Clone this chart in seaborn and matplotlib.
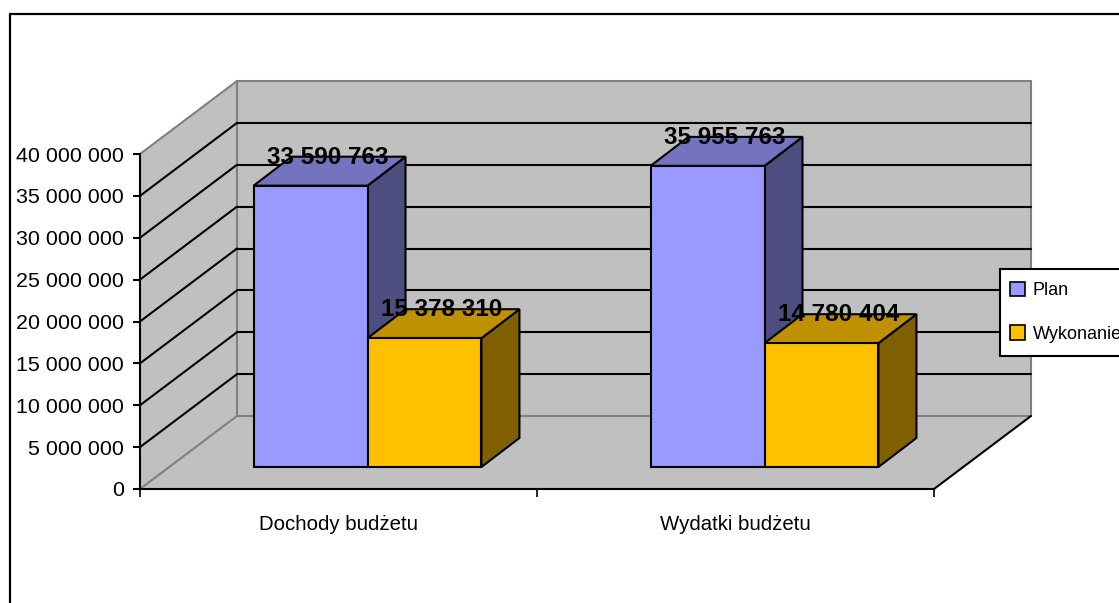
# wykonanie_budzetu.py

import pandas as pd
import matplotlib
matplotlib.use("Agg")
import matplotlib.pyplot as plt
import seaborn as sns
from matplotlib.lines import Line2D
from matplotlib.patches import Patch, Polygon, Rectangle
from matplotlib.transforms import Affine2D, IdentityTransform

# --- Dane ---
kategorie = ["Dochody budżetu", "Wydatki budżetu"]
plan = [33590763, 35955763]
wykonanie = [15378310, 14780404]
serie = ["Plan", "Wykonanie"]
etykiety_y = [0, 5000000, 10000000, 15000000, 20000000, 25000000, 30000000, 35000000, 40000000]

df = pd.DataFrame({
    "kategoria": kategorie * 2,
    "seria": [serie[0]] * 2 + [serie[1]] * 2,
    "wartosc": plan + wykonanie,
})

# --- Kolory: przod, gora, bok ---
kolory = {"Plan": "#9999FF", "Wykonanie": "#FFC000"}
kolory_gora = {"Plan": "#7373BF", "Wykonanie": "#BF9000"}
kolory_bok = {"Plan": "#4D4D80", "Wykonanie": "#806000"}
SZARY = "#C0C0C0"
KRAWEDZ = "#808080"

# --- Geometria pseudo 3D, w pikselach ---
W, H = 1119, 603
GLEBIA = (97, 73)
PRZESUNIECIE = (29, 22)
GLEBIA_SLUPKA = (38, 29)

sns.set_style("white")
plt.rcParams["font.family"] = ["Liberation Sans", "DejaVu Sans"]

fig = plt.figure(figsize=(W / 100, H / 100), dpi=100, facecolor="white")
ax = fig.add_axes([140 / W, (H - 489) / H, 794 / W, 335 / H], facecolor="none")

sns.barplot(data=df, x="kategoria", y="wartosc", hue="seria", palette=kolory, width=0.574,
            gap=0, saturation=1, edgecolor="black", linewidth=1.5, legend=False, ax=ax)

ax.set_xlim(-0.5, 1.5)
ax.set_ylim(0, 40000000)


def piksel(x, y, dx=0, dy=0):
    px, py = ax.transData.transform((x, y))
    return (px + dx, py + dy)


def wielokat(punkty, kolor, krawedz="none", zorder=1, lw=1.5):
    ax.add_patch(Polygon(punkty, closed=True, facecolor=kolor, edgecolor=krawedz, linewidth=lw,
                         transform=IdentityTransform(), clip_on=False, zorder=zorder, joinstyle="miter"))


def linia(p1, p2, kolor="black", zorder=1.2, lw=1.5):
    ax.add_line(Line2D([p1[0], p2[0]], [p1[1], p2[1]], color=kolor, linewidth=lw,
                       transform=IdentityTransform(), clip_on=False, zorder=zorder))


gx, gy = GLEBIA
x0, x1 = ax.get_xlim()
y_max = etykiety_y[-1]

# --- Sciany i podloga ---
wielokat([piksel(x0, 0), piksel(x0, 0, gx, gy), piksel(x0, y_max, gx, gy), piksel(x0, y_max)], SZARY, zorder=0.5)
wielokat([piksel(x0, 0, gx, gy), piksel(x1, 0, gx, gy), piksel(x1, y_max, gx, gy), piksel(x0, y_max, gx, gy)], SZARY, zorder=0.5)
wielokat([piksel(x0, 0), piksel(x1, 0), piksel(x1, 0, gx, gy), piksel(x0, 0, gx, gy)], SZARY, zorder=0.5)

# --- Siatka ---
for v in etykiety_y[1:-1]:
    linia(piksel(x0, v), piksel(x0, v, gx, gy))
    linia(piksel(x0, v, gx, gy), piksel(x1, v, gx, gy))

# --- Krawedzie ---
linia(piksel(x0, 0), piksel(x0, 0, gx, gy), KRAWEDZ, 0.9)
linia(piksel(x0, y_max), piksel(x0, y_max, gx, gy), KRAWEDZ, 0.9)
linia(piksel(x0, 0, gx, gy), piksel(x0, y_max, gx, gy), KRAWEDZ, 0.9)
linia(piksel(x0, y_max, gx, gy), piksel(x1, y_max, gx, gy), KRAWEDZ, 0.9)
linia(piksel(x1, 0, gx, gy), piksel(x1, y_max, gx, gy), KRAWEDZ, 0.9)
linia(piksel(x0, 0, gx, gy), piksel(x1, 0, gx, gy), KRAWEDZ, 0.9)
linia(piksel(x1, 0), piksel(x1, 0, gx, gy), "black", 1.3)

# --- Slupki: przesuniecie w glab i boki ---
px, py = PRZESUNIECIE
sx, sy = GLEBIA_SLUPKA
przesun = ax.transData + Affine2D().translate(px, py)
for i, (seria, kontener) in enumerate(zip(serie, ax.containers)):
    z = 3 + i
    for slupek in kontener:
        slupek.set_transform(przesun)
        slupek.set_clip_on(False)
        slupek.set_zorder(z + 0.2)
        lewa, prawa = slupek.get_x(), slupek.get_x() + slupek.get_width()
        v = slupek.get_height()
        wielokat([piksel(prawa, 0, px, py), piksel(prawa, 0, px + sx, py + sy),
                  piksel(prawa, v, px + sx, py + sy), piksel(prawa, v, px, py)],
                 kolory_bok[seria], "black", z)
        wielokat([piksel(lewa, v, px, py), piksel(prawa, v, px, py),
                  piksel(prawa, v, px + sx, py + sy), piksel(lewa, v, px + sx, py + sy)],
                 kolory_gora[seria], "black", z + 0.1)
        ax.annotate(f"{int(v):,}".replace(",", " "), xy=(slupek.get_x() + slupek.get_width() / 2, v),
                    xycoords=przesun, xytext=(12.5, 20.5), textcoords="offset points",
                    ha="center", va="center", fontsize=17.5, fontweight="bold", color="black",
                    annotation_clip=False, zorder=10)

# --- Osie ---
for strona in ["top", "right"]:
    ax.spines[strona].set_visible(False)
for strona in ["left", "bottom"]:
    ax.spines[strona].set_color("black")
    ax.spines[strona].set_linewidth(1.5)

ax.set_xlabel("")
ax.set_ylabel("")
ax.set_yticks(etykiety_y, [f"{v:,}".replace(",", " ") for v in etykiety_y])
ax.set_xticks([-0.5, 0.5, 1.5], ["", "", ""])
ax.set_xticks([0, 1], kategorie, minor=True)
ax.tick_params(axis="y", which="major", left=True, length=5, width=1.5, color="black",
               labelsize=15.4, labelcolor="black", pad=6.5)
ax.tick_params(axis="x", which="major", bottom=True, length=6, width=1.2, color="black")
ax.tick_params(axis="x", which="minor", bottom=False, length=0, labelsize=14.7, labelcolor="black", pad=19)

# --- Legenda ---
ax.add_patch(Rectangle((1000, H - 356), 140, 87, facecolor="white", edgecolor="black", linewidth=1.5,
                       transform=IdentityTransform(), clip_on=False, zorder=19))
uchwyty = [Patch(facecolor=kolory[s], edgecolor="black", linewidth=1.2, label=s) for s in serie]
leg = ax.legend(handles=uchwyty, loc="upper left", bbox_to_anchor=(1010, H - 282),
                bbox_transform=IdentityTransform(), borderaxespad=0, fontsize=13, frameon=False,
                handlelength=0.83, handleheight=0.83, handletextpad=0.44, labelspacing=1.44,
                borderpad=0, labelcolor="black")
leg.set_zorder(20)

# --- Ramka wykresu ---
fig.add_artist(Line2D([9.5, 9.5], [0, H - 14], color="black", linewidth=1.6, transform=IdentityTransform()))
fig.add_artist(Line2D([9.5, W], [H - 14, H - 14], color="black", linewidth=1.6, transform=IdentityTransform()))

fig.savefig("out.png", dpi=100)
